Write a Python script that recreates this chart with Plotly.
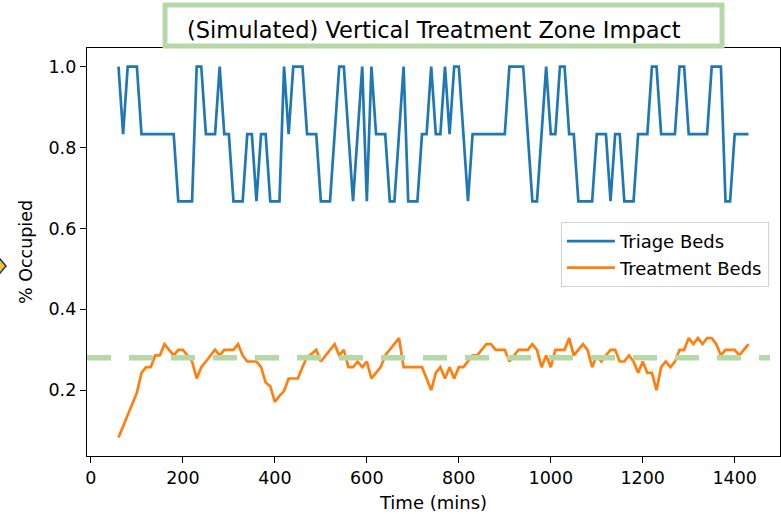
import plotly.graph_objects as go

# ---- data ----
time_mins = list(range(60, 1440, 10))

triage_beds = [
    1.0, 0.833, 1.0, 1.0, 1.0, 0.833, 0.833, 0.833, 0.833, 0.833,   # 60-150
    0.833, 0.833, 0.833, 0.667, 0.667, 0.667, 0.667, 1.0, 1.0, 0.833,  # 160-250
    0.833, 0.833, 1.0, 0.833, 0.833, 0.667, 0.667, 0.667, 0.833, 0.833,  # 260-350
    0.667, 0.833, 0.833, 0.667, 0.667, 0.667, 1.0, 0.833, 1.0, 1.0,  # 360-450
    1.0, 0.833, 0.833, 0.833, 0.667, 0.667, 0.667, 0.833, 1.0, 1.0,  # 460-550
    0.833, 0.667, 0.833, 1.0, 0.667, 1.0, 0.833, 0.833, 0.833, 0.667,  # 560-650
    0.667, 0.833, 1.0, 0.667, 0.667, 0.667, 0.833, 0.833, 1.0, 0.833,  # 660-750
    0.833, 1.0, 0.833, 1.0, 1.0, 0.833, 0.667, 0.833, 0.833, 0.833,  # 760-850
    0.833, 0.833, 0.833, 0.833, 0.833, 1.0, 1.0, 1.0, 1.0, 0.833,  # 860-950
    0.667, 0.667, 0.833, 1.0, 0.833, 0.833, 1.0, 1.0, 0.833, 0.833,  # 960-1050
    0.667, 0.667, 0.667, 0.667, 0.833, 0.833, 0.833, 0.667, 0.833, 0.833,  # 1060-1150
    0.667, 0.667, 0.667, 0.833, 0.833, 0.833, 1.0, 1.0, 0.833, 0.833,  # 1160-1250
    0.833, 0.833, 1.0, 1.0, 0.833, 0.833, 0.833, 0.833, 0.833, 1.0,  # 1260-1350
    1.0, 1.0, 0.667, 0.667, 0.833, 0.833, 0.833, 0.833,  # 1360-1430
]

treatment_beds = [
    0.083, 0.11, 0.14, 0.167, 0.194, 0.243, 0.257, 0.257, 0.286, 0.286,  # 60-150
    0.314, 0.300, 0.286, 0.300, 0.300, 0.286, 0.271, 0.229, 0.257, 0.271,  # 160-250
    0.286, 0.300, 0.286, 0.300, 0.300, 0.300, 0.314, 0.286, 0.271, 0.271,  # 260-350
    0.271, 0.257, 0.219, 0.210, 0.171, 0.186, 0.198, 0.229, 0.229, 0.229,  # 360-450
    0.257, 0.282, 0.290, 0.300, 0.271, 0.286, 0.300, 0.314, 0.286, 0.300,  # 460-550
    0.257, 0.257, 0.271, 0.257, 0.271, 0.229, 0.243, 0.257, 0.286, 0.300,  # 560-650
    0.314, 0.329, 0.257, 0.257, 0.257, 0.257, 0.257, 0.229, 0.200, 0.243,  # 660-750
    0.257, 0.229, 0.257, 0.229, 0.257, 0.257, 0.271, 0.286, 0.286, 0.300,  # 760-850
    0.314, 0.314, 0.300, 0.300, 0.300, 0.271, 0.286, 0.300, 0.300, 0.300,  # 860-950
    0.314, 0.300, 0.257, 0.286, 0.257, 0.300, 0.300, 0.300, 0.329, 0.286,  # 960-1050
    0.300, 0.314, 0.300, 0.257, 0.286, 0.271, 0.286, 0.300, 0.300, 0.271,  # 1060-1150
    0.271, 0.286, 0.271, 0.243, 0.271, 0.243, 0.243, 0.200, 0.257, 0.271,  # 1160-1250
    0.257, 0.271, 0.300, 0.300, 0.329, 0.314, 0.329, 0.314, 0.329, 0.329,  # 1260-1350
    0.314, 0.286, 0.300, 0.300, 0.300, 0.286, 0.300, 0.314,  # 1360-1430
]

target_level = 0.28

x_ticks = [0, 200, 400, 600, 800, 1000, 1200, 1400]
y_ticks = [0.2, 0.4, 0.6, 0.8, 1.0]
y_tick_text = ["0.2", "0.4", "0.6", "0.8", "1.0"]

title_text = "(Simulated) Vertical Treatment Zone Impact"
FONT = "DejaVu Sans"

fig = go.Figure()
fig.add_trace(go.Scatter(x=time_mins, y=triage_beds, mode="lines", name="Triage Beds",
                         line=dict(color="#1f77b4", width=2.7)))
fig.add_trace(go.Scatter(x=time_mins, y=treatment_beds, mode="lines", name="Treatment Beds",
                         line=dict(color="#ff7f0e", width=2.7)))

# dashed reference line
fig.add_shape(type="line", xref="x domain", yref="y", x0=0, x1=0.9856,
              y0=target_level, y1=target_level,
              line=dict(color="#b6d7a8", width=5.5, dash="24px,18px"), layer="above")

# title box
fig.add_shape(type="rect", xref="paper", yref="paper", x0=0.1126, x1=0.9163,
              y0=1.0049, y1=1.1055, line=dict(color="#b6d7a8", width=5),
              fillcolor="white", layer="above")
fig.add_annotation(text=title_text, xref="paper", yref="paper", x=0.5, y=1.043,
                   xanchor="center", yanchor="middle", showarrow=False,
                   font=dict(family=FONT, size=22.5, color="black"))

# small diamond artefact at the left edge
fig.add_shape(type="path", xref="paper", yref="paper",
              path="M -0.1342 0.4657 L -0.1255 0.4828 L -0.1169 0.4657 L -0.1255 0.4485 Z",
              line=dict(color="#1a3a6e", width=1.5), fillcolor="#f2c230")

axis_common = dict(showline=True, linecolor="black", linewidth=1.4, mirror=True,
                   ticks="outside", ticklen=6, tickwidth=1.4, tickcolor="black",
                   showgrid=False, zeroline=False, automargin=False,
                   tickfont=dict(family=FONT, size=17.5, color="black"))

fig.update_xaxes(range=[-8.5, 1498.5], tickvals=x_ticks,
                 title=dict(text="Time (mins)", font=dict(family=FONT, size=18, color="black"),
                            standoff=9),
                 **axis_common)
fig.update_yaxes(range=[0.0375, 1.0458], tickvals=y_ticks, ticktext=y_tick_text,
                 title=dict(text="% Occupied", font=dict(family=FONT, size=17.5, color="black"),
                            standoff=11),
                 **axis_common)

fig.update_layout(
    width=781, height=514,
    margin=dict(l=87, r=1, t=48, b=58, autoexpand=False),
    paper_bgcolor="white", plot_bgcolor="white",
    font=dict(family=FONT, size=17.5, color="black"),
    legend=dict(x=0.984, xanchor="right", y=0.5735, yanchor="top",
                bgcolor="white", bordercolor="#d0d0d0", borderwidth=1,
                font=dict(family=FONT, size=18, color="black"),
                tracegroupgap=0, itemwidth=48),
    showlegend=True,
)

fig.write_html("out.html", config={"displayModeBar": False},
               post_script="document.body.style.margin='0px';document.body.style.overflow='hidden';")
